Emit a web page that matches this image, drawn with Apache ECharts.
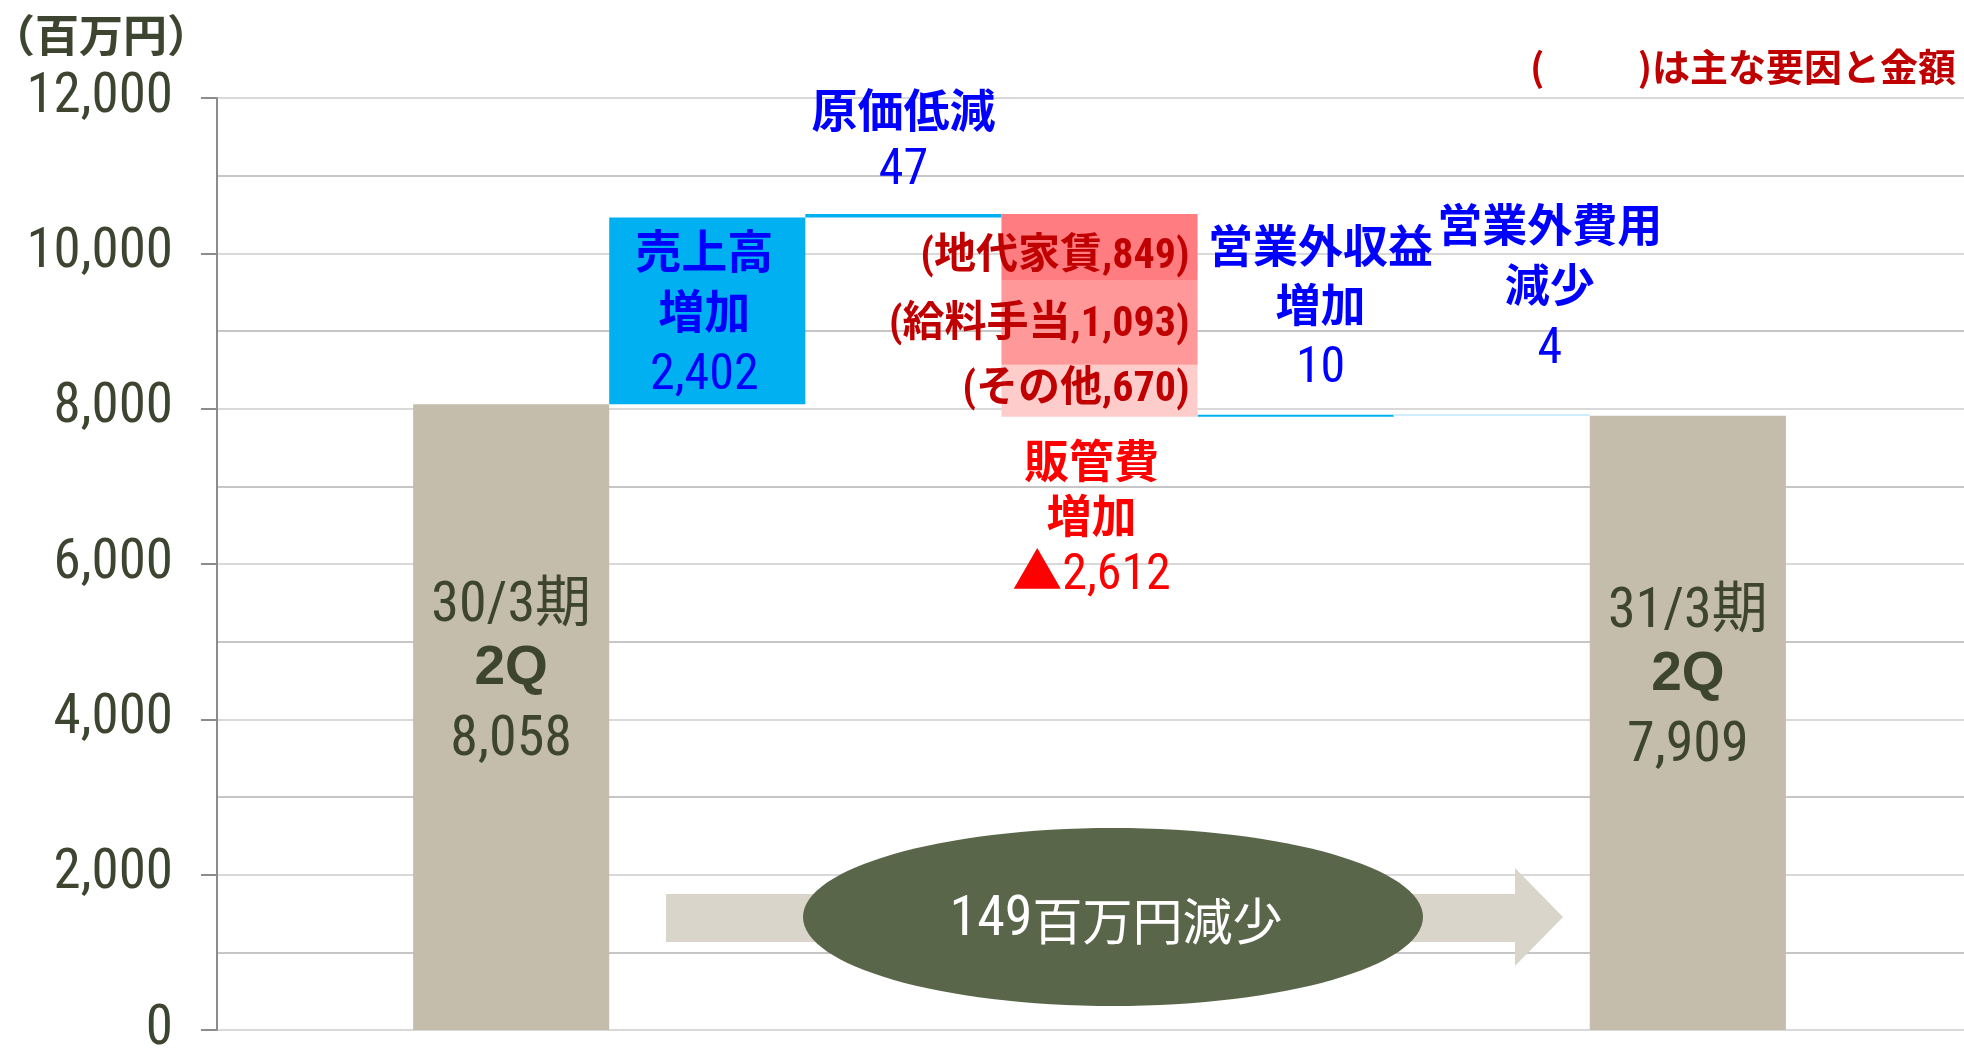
<!DOCTYPE html>
<html><head><meta charset="utf-8">
<script src="https://cdn.jsdelivr.net/npm/echarts@6/dist/echarts.min.js"></script>
<style>html,body{margin:0;padding:0;background:#fff}#c{width:1964px;height:1048px}</style>
</head><body><div id="c"></div>
<script>
// ---- data ----
const categories = ['', '30/3期 2Q', '売上高増加', '原価低減', '販管費増加', '営業外収益増加', '営業外費用減少', '31/3期 2Q', ''];
const periodNames = ['30/3期', '31/3期'];
const periodSub = '2Q';
const startValue = 8058;
const endValue = 7909;
const salesIncrease = 2402;
const costReduction = 47;
const sgaRent = 849;
const sgaSalary = 1093;
const sgaOther = 670;
const nonOpIncome = 10;
const nonOpExpenseDecrease = 4;
const yTicks = [0, 2000, 4000, 6000, 8000, 10000, 12000];

// ---- derived ----
const fmt = v => v.toLocaleString('en-US');
const sgaTotal = sgaRent + sgaSalary + sgaOther;
const lvSales = startValue + salesIncrease;
const lvCost = lvSales + costReduction;
const lvSga = lvCost - sgaTotal;
const lvNonOpInc = lvSga + nonOpIncome;

const NARROW = "'Roboto Condensed','Noto Sans CJK JP',sans-serif";
const CJK = "'Noto Sans CJK JP',sans-serif";
const WIDE = "'Liberation Sans','Noto Sans CJK JP',sans-serif";
const OLIVE = '#3d4530';
const BLUE = '#0000ff';

function richSet(color, tSize, nSize, lh) {
  return {
    t: {fontFamily: CJK, fontWeight: 'bold', fontSize: tSize, color: color, lineHeight: lh},
    n: {fontFamily: NARROW, fontSize: nSize, color: color, lineHeight: lh, padding: [11, 0, 0, 0]}
  };
}
const blueRich = richSet(BLUE, 46, 50, 60);

const baseData = [null, null, startValue, lvSales,
  {value: lvSga, label: {show: true, position: 'insideTop', distance: 17, offset: [-8, 0],
    formatter: `{t|販管費}\n{t|増加}\n{n|▲${fmt(sgaTotal)}}`, rich: richSet('#ff0000', 45, 50, 55)}},
  lvSga, lvNonOpInc, null, null];

const totalData = [null, startValue, null, null, null, null, null, endValue, null];

const incData = [null, null,
  {value: salesIncrease, itemStyle: {color: '#00b0f0'},
    label: {show: true, position: 'inside', offset: [-3, 0], formatter: `{t|売上高}\n{t|増加}\n{n|${fmt(salesIncrease)}}`, rich: blueRich}},
  {value: costReduction, itemStyle: {color: '#00b0f0'},
    label: {show: true, position: 'top', distance: 19, formatter: `{t|原価低減}\n{n|${fmt(costReduction)}}`, rich: richSet(BLUE, 46, 50, 57)}},
  null,
  {value: nonOpIncome, itemStyle: {color: '#00b0f0'},
    label: {show: true, position: 'top', distance: 21, offset: [25, 0], formatter: `{t|営業外収益}\n{t|増加}\n{n|${fmt(nonOpIncome)}}`, rich: richSet(BLUE, 45, 50, 59)}},
  {value: nonOpExpenseDecrease, itemStyle: {color: '#cdeefa'},
    label: {show: true, position: 'top', distance: 39, offset: [58, 0], formatter: `{t|営業外費用}\n{t|減少}\n{n|${fmt(nonOpExpenseDecrease)}}`, rich: richSet(BLUE, 45, 50, 60)}},
  null, null];

function sgaSeries(name, value, color, oy) {
  const d = categories.map(() => null);
  d[4] = value;
  return {
    name: name, type: 'bar', stack: 'w', data: d, barCategoryGap: '0%',
    itemStyle: {color: color},
    emphasis: {disabled: true},
    label: {show: true, position: 'insideRight', distance: 8, offset: [0, oy],
      formatter: `(${name},${fmt(value)})`, color: '#c00000', fontSize: 42, fontWeight: 'bold', fontFamily: NARROW}
  };
}

const chart = echarts.init(document.getElementById('c'));
chart.setOption({
  animation: false,
  title: [
    {text: '（百万円）', left: -14, top: 8, textStyle: {fontSize: 44, fontWeight: 'bold', color: OLIVE, fontFamily: CJK}},
    {text: '(　　  )は主な要因と金額', right: 3, top: 43, textStyle: {fontSize: 38, fontWeight: 'bold', color: '#c00000', fontFamily: CJK}}
  ],
  grid: {left: 217, top: 98, bottom: 18, right: -18, containLabel: false, outerBoundsMode: 'none'},
  xAxis: {type: 'category', data: categories, axisLine: {show: false}, axisTick: {show: false}, axisLabel: {show: false}, splitLine: {show: false}},
  yAxis: {
    type: 'value', min: yTicks[0], max: yTicks[yTicks.length - 1], interval: yTicks[1] - yTicks[0],
    axisLine: {show: true, lineStyle: {color: '#8c8c8c', width: 2}},
    axisTick: {show: true, length: 16, lineStyle: {color: '#8c8c8c', width: 2}},
    axisLabel: {margin: 44, fontSize: 55, color: OLIVE, fontFamily: NARROW, padding: [7, 0, 0, 0], formatter: v => fmt(v)},
    splitLine: {lineStyle: {color: '#d9d9d9', width: 2}},
    minorTick: {show: false, splitNumber: 2},
    minorSplitLine: {show: true, lineStyle: {color: '#c6c6c6', width: 2}}
  },
  series: [
    {name: 'base', type: 'bar', stack: 'w', data: baseData, barCategoryGap: '0%', itemStyle: {color: 'transparent'}, emphasis: {disabled: true}, label: {show: false}},
    {name: 'total', type: 'bar', stack: 'w', data: totalData, barCategoryGap: '0%', itemStyle: {color: '#c4bdab'}, emphasis: {disabled: true},
      label: {show: true, position: 'inside', offset: [0, -43],
        formatter: p => `{a|${periodNames[p.dataIndex === 1 ? 0 : 1]}}\n{b|${periodSub}}\n{a|${fmt(p.value)}}`,
        rich: {
          a: {fontFamily: NARROW, fontSize: 56, color: OLIVE, lineHeight: 67},
          b: {fontFamily: WIDE, fontWeight: 'bold', fontSize: 55, color: OLIVE, lineHeight: 67, padding: [0, 0, 10, 0]}
        }}},
    {name: 'increase', type: 'bar', stack: 'w', data: incData, barCategoryGap: '0%', barMinHeight: 2, emphasis: {disabled: true}},
    sgaSeries('その他', sgaOther, '#ffcccc', 0),
    sgaSeries('給料手当', sgaSalary, '#ff9999', 3),
    sgaSeries('地代家賃', sgaRent, '#ff7c80', 11)
  ],
  graphic: [
    {type: 'polygon', z: 10, shape: {points: [[666, 894], [1515, 894], [1515, 868], [1563, 917], [1515, 966], [1515, 942], [666, 942]]}, style: {fill: '#d9d5ca'}},
    {type: 'ellipse', z: 11, shape: {cx: 1113, cy: 917, rx: 310, ry: 89}, style: {fill: '#5a6649'}},
    {type: 'text', z: 12, x: 1116, y: 921, style: {
      text: `{n|${fmt(startValue - endValue)}}{t|百万円減少}`, align: 'center', verticalAlign: 'middle',
      rich: {n: {fontFamily: NARROW, fontSize: 56, fill: '#ffffff'}, t: {fontFamily: CJK, fontSize: 50, fill: '#ffffff'}}}}
  ]
});
</script></body></html>
